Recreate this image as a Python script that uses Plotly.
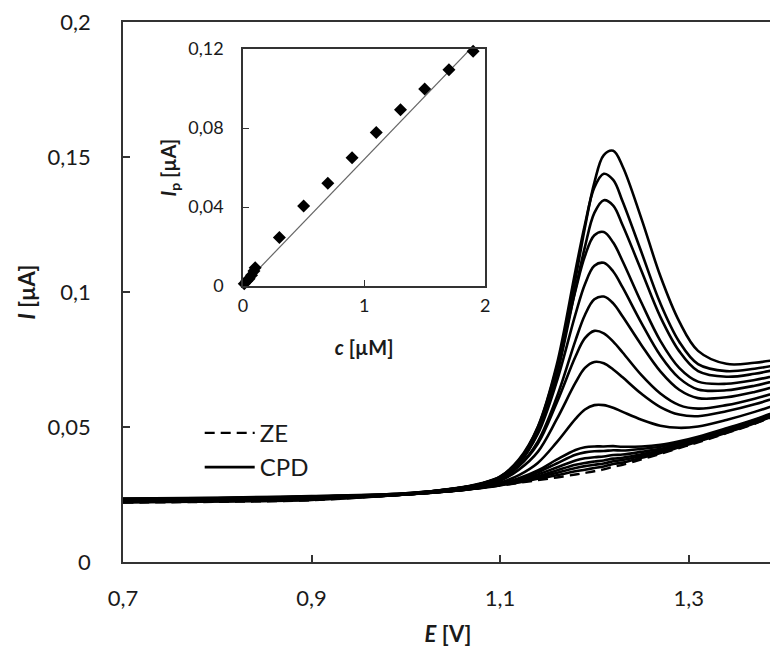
import plotly.graph_objects as go

# ---------------- data ----------------
E = [0.70, 0.80, 0.90, 1.00, 1.05, 1.08, 1.10, 1.12, 1.14, 1.16, 1.18, 1.19,
     1.20, 1.21, 1.22, 1.23, 1.25, 1.27, 1.29, 1.31, 1.34, 1.37, 1.40]

ZE = [0.0220, 0.0223, 0.0229, 0.0250, 0.0263, 0.0274, 0.0283, 0.0293, 0.0303, 0.0313, 0.0324, 0.0330,
      0.0336, 0.0343, 0.0353, 0.0360, 0.0380, 0.0400, 0.0422, 0.0443, 0.0477, 0.0512, 0.0552]

# CPD, low concentrations (small shoulders)
cpd_s1 = [0.0221, 0.0224, 0.0230, 0.0250, 0.0263, 0.0274, 0.0284, 0.0295, 0.0308, 0.0321, 0.0336, 0.0342,
          0.0348, 0.0354, 0.0363, 0.0368, 0.0386, 0.0404, 0.0425, 0.0446, 0.0479, 0.0514, 0.0554]
cpd_s2 = [0.0222, 0.0225, 0.0231, 0.0250, 0.0263, 0.0275, 0.0285, 0.0298, 0.0313, 0.0330, 0.0348, 0.0355,
          0.0360, 0.0365, 0.0373, 0.0378, 0.0393, 0.0409, 0.0429, 0.0449, 0.0482, 0.0516, 0.0556]
cpd_s3 = [0.0223, 0.0226, 0.0232, 0.0250, 0.0263, 0.0275, 0.0286, 0.0300, 0.0317, 0.0339, 0.0360, 0.0367,
          0.0372, 0.0376, 0.0383, 0.0386, 0.0399, 0.0413, 0.0432, 0.0451, 0.0484, 0.0518, 0.0558]
cpd_s4 = [0.0224, 0.0227, 0.0233, 0.0250, 0.0264, 0.0276, 0.0287, 0.0303, 0.0324, 0.0350, 0.0376, 0.0384,
          0.0388, 0.0391, 0.0396, 0.0398, 0.0408, 0.0419, 0.0436, 0.0455, 0.0487, 0.0521, 0.0560]
cpd_s5 = [0.0225, 0.0228, 0.0234, 0.0250, 0.0264, 0.0276, 0.0289, 0.0307, 0.0332, 0.0365, 0.0397, 0.0406,
          0.0410, 0.0411, 0.0414, 0.0413, 0.0419, 0.0427, 0.0442, 0.0460, 0.0492, 0.0525, 0.0564]
cpd_s6 = [0.0226, 0.0229, 0.0235, 0.0250, 0.0264, 0.0277, 0.0290, 0.0310, 0.0339, 0.0379, 0.0415, 0.0425,
          0.0428, 0.0428, 0.0429, 0.0427, 0.0428, 0.0434, 0.0447, 0.0464, 0.0495, 0.0528, 0.0567]

# CPD, 0.3 ... 1.9 uM
cpd_03 = [0.0227, 0.0230, 0.0236, 0.0251, 0.0265, 0.0279, 0.0294, 0.0322, 0.0367, 0.0443, 0.0530, 0.0565,
          0.0581, 0.0581, 0.0571, 0.0556, 0.0527, 0.0505, 0.0497, 0.0502, 0.0526, 0.0556, 0.0591]
cpd_05 = [0.0228, 0.0231, 0.0237, 0.0252, 0.0267, 0.0282, 0.0301, 0.0342, 0.0408, 0.0528, 0.0664, 0.0719,
          0.0741, 0.0736, 0.0713, 0.0684, 0.0623, 0.0574, 0.0546, 0.0540, 0.0558, 0.0584, 0.0617]
cpd_07 = [0.0229, 0.0232, 0.0238, 0.0252, 0.0268, 0.0284, 0.0306, 0.0355, 0.0438, 0.0589, 0.0761, 0.0829,
          0.0856, 0.0847, 0.0816, 0.0776, 0.0692, 0.0624, 0.0581, 0.0568, 0.0581, 0.0605, 0.0635]
cpd_09 = [0.0230, 0.0233, 0.0239, 0.0253, 0.0269, 0.0286, 0.0307, 0.0356, 0.0446, 0.0609, 0.0821, 0.0915,
          0.0973, 0.0983, 0.0958, 0.0909, 0.0803, 0.0706, 0.0638, 0.0607, 0.0610, 0.0630, 0.0658]
cpd_11 = [0.0231, 0.0234, 0.0240, 0.0253, 0.0270, 0.0288, 0.0312, 0.0368, 0.0474, 0.0667, 0.0918, 0.1029,
          0.1097, 0.1108, 0.1076, 0.1017, 0.0885, 0.0765, 0.0681, 0.0639, 0.0636, 0.0653, 0.0679]
cpd_13 = [0.0232, 0.0235, 0.0241, 0.0254, 0.0271, 0.0290, 0.0316, 0.0380, 0.0499, 0.0719, 0.1006, 0.1133,
          0.1210, 0.1222, 0.1183, 0.1114, 0.0960, 0.0819, 0.0719, 0.0668, 0.0660, 0.0674, 0.0697]
cpd_15 = [0.0233, 0.0236, 0.0242, 0.0253, 0.0271, 0.0290, 0.0313, 0.0368, 0.0482, 0.0692, 0.1012, 0.1167,
          0.1293, 0.1340, 0.1320, 0.1247, 0.1078, 0.0908, 0.0781, 0.0707, 0.0686, 0.0697, 0.0718]
cpd_17 = [0.0234, 0.0237, 0.0243, 0.0253, 0.0272, 0.0292, 0.0316, 0.0375, 0.0500, 0.0729, 0.1080, 0.1250,
          0.1387, 0.1438, 0.1415, 0.1335, 0.1147, 0.0958, 0.0816, 0.0733, 0.0707, 0.0716, 0.0734]
cpd_19 = [0.0235, 0.0238, 0.0244, 0.0254, 0.0271, 0.0289, 0.0313, 0.0364, 0.0481, 0.0693, 0.1049, 0.1239,
          0.1405, 0.1507, 0.1523, 0.1465, 0.1271, 0.1059, 0.0891, 0.0782, 0.0734, 0.0738, 0.0753]

cpd_curves = [cpd_s1, cpd_s2, cpd_s3, cpd_s4, cpd_s5, cpd_s6,
              cpd_03, cpd_05, cpd_07, cpd_09, cpd_11, cpd_13, cpd_15, cpd_17, cpd_19]

# inset: calibration
conc = [0.01, 0.03, 0.05, 0.07, 0.09, 0.10, 0.3, 0.5, 0.7, 0.9, 1.1, 1.3, 1.5, 1.7, 1.9]
Ip = [0.0012, 0.0025, 0.0037, 0.0054, 0.0076, 0.0093, 0.0245, 0.0405, 0.052, 0.065,
      0.0777, 0.0892, 0.0997, 0.1095, 0.1188]
fit_slope = 0.0637
fit_intercept = 0.0004
fit_x = [0.0, 2.0]

x_tickvals = [0.7, 0.9, 1.1, 1.3]
x_ticktext = ["0,7", "0,9", "1,1", "1,3"]
y_tickvals = [0, 0.05, 0.1, 0.15, 0.2]
y_ticktext = ["0", "0,05", "0,1", "0,15", "0,2"]
ix_tickvals = [0, 1, 2]
ix_ticktext = ["0", "1", "2"]
iy_tickvals = [0, 0.04, 0.08, 0.12]
iy_ticktext = ["0", "0,04", "0,08", "0,12"]

# ---------------- figure ----------------
FONT = "Lato"
INK = "#1a1a1a"
AX = "#333333"

fig = go.Figure()

fig.add_trace(go.Scatter(x=E, y=ZE, mode="lines", name="ZE",
                         line=dict(color="black", width=2.4, dash="10px,6px", shape="spline"),
                         xaxis="x", yaxis="y"))
for i, cur in enumerate(cpd_curves):
    fig.add_trace(go.Scatter(x=E, y=cur, mode="lines", name="CPD",
                             showlegend=(i == 0), legendgroup="cpd",
                             line=dict(color="black", width=2.6, shape="spline"),
                             xaxis="x", yaxis="y"))

fit_y = [fit_intercept + fit_slope * v for v in fit_x]
fig.add_trace(go.Scatter(x=fit_x, y=fit_y, mode="lines", showlegend=False,
                         line=dict(color="#666666", width=1.2),
                         xaxis="x2", yaxis="y2"))
fig.add_trace(go.Scatter(x=conc, y=Ip, mode="markers", showlegend=False,
                         marker=dict(symbol="diamond", size=10, color="black"),
                         cliponaxis=False, xaxis="x2", yaxis="y2"))

# the page body adds an 8 px offset, so the margins are reduced by 8 px
fig.update_layout(
    width=770, height=643,
    margin=dict(l=115, r=0, t=14, b=89),
    paper_bgcolor="white", plot_bgcolor="white",
    separators=", ",
    font=dict(family=FONT, color=INK),
    legend=dict(x=0.118, y=0.28, xanchor="left", yanchor="top",
                bgcolor="rgba(0,0,0,0)", font=dict(size=24, family=FONT, color=INK),
                tracegroupgap=0, itemwidth=50),
    xaxis=dict(range=[0.7, 1.3895], tickvals=x_tickvals, ticktext=x_ticktext,
               ticks="inside", ticklen=7, tickwidth=1.5, tickcolor=AX,
               showline=True, linecolor=AX, linewidth=1.5, mirror=True,
               showgrid=False, zeroline=False, ticklabeloverflow="allow",
               tickfont=dict(size=22, family=FONT, color=INK), ticklabelstandoff=16,
               title=dict(text="<b><i>E</i> [V]</b>", font=dict(size=22, family=FONT, color=INK),
                          standoff=16)),
    yaxis=dict(range=[0, 0.2], tickvals=y_tickvals, ticktext=y_ticktext,
               ticks="inside", ticklen=7, tickwidth=1.5, tickcolor=AX,
               showline=True, linecolor=AX, linewidth=1.5, mirror=True,
               showgrid=False, zeroline=False, ticklabeloverflow="allow",
               tickfont=dict(size=22, family=FONT, color=INK), ticklabelstandoff=26,
               title=dict(text="<b><i>I</i> [µA]</b>", font=dict(size=22, family=FONT, color=INK),
                          standoff=6)),
    xaxis2=dict(domain=[0.1847, 0.5573], anchor="y2", range=[0, 2],
                tickvals=ix_tickvals, ticktext=ix_ticktext,
                ticks="inside", ticklen=6, tickwidth=1.3, tickcolor=AX,
                showline=True, linecolor=AX, linewidth=1.5, mirror=True,
                showgrid=False, zeroline=False,
                tickfont=dict(size=18, family=FONT, color=INK), ticklabelstandoff=3,
                title=dict(text="<b><i>c</i> [µM]</b>", font=dict(size=20, family=FONT, color=INK),
                           standoff=26)),
    yaxis2=dict(domain=[0.5111, 0.95], anchor="x2", range=[0, 0.12],
                tickvals=iy_tickvals, ticktext=iy_ticktext,
                ticks="inside", ticklen=6, tickwidth=1.3, tickcolor=AX,
                showline=True, linecolor=AX, linewidth=1.5, mirror=True,
                showgrid=False, zeroline=False,
                tickfont=dict(size=18, family=FONT, color=INK), ticklabelstandoff=14,
                title=dict(text="<b><i>I</i><sub>p</sub> [µA]</b>",
                           font=dict(size=20, family=FONT, color=INK), standoff=6)),
)

fig.write_html("out.html")
